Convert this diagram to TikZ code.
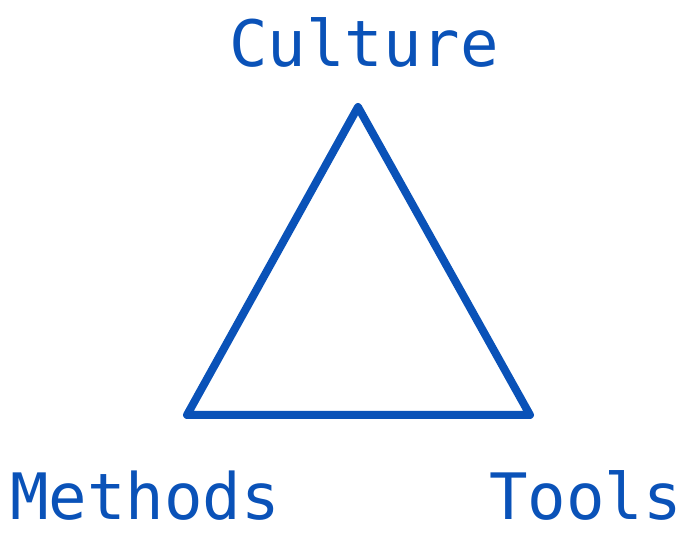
\documentclass[tikz,border=0pt]{standalone}
\usepackage{fontspec}
\setmonofont{DejaVu Sans Mono}
\definecolor{tblue}{HTML}{0A52B8}
\begin{document}
\begin{tikzpicture}[x=1pt,y=1pt,
  lbl/.style={inner sep=0pt,anchor=base west,text=tblue,font=\ttfamily\fontsize{64}{72}\selectfont},
  tri/.style={draw=tblue,line width=8pt,line join=round}]
\useasboundingbox (0,0) rectangle (694,543);
\coordinate (top) at (358,436);
\coordinate (bl) at (187,128);
\coordinate (br) at (530,128);
\draw[tri] (top) -- (bl) -- (br) -- cycle;
\node[lbl] (culture) at (229,476) {Culture};
\node[lbl] (methods) at (10,23) {Methods};
\node[lbl] (tools) at (489,23) {Tools};
\end{tikzpicture}
\end{document}
